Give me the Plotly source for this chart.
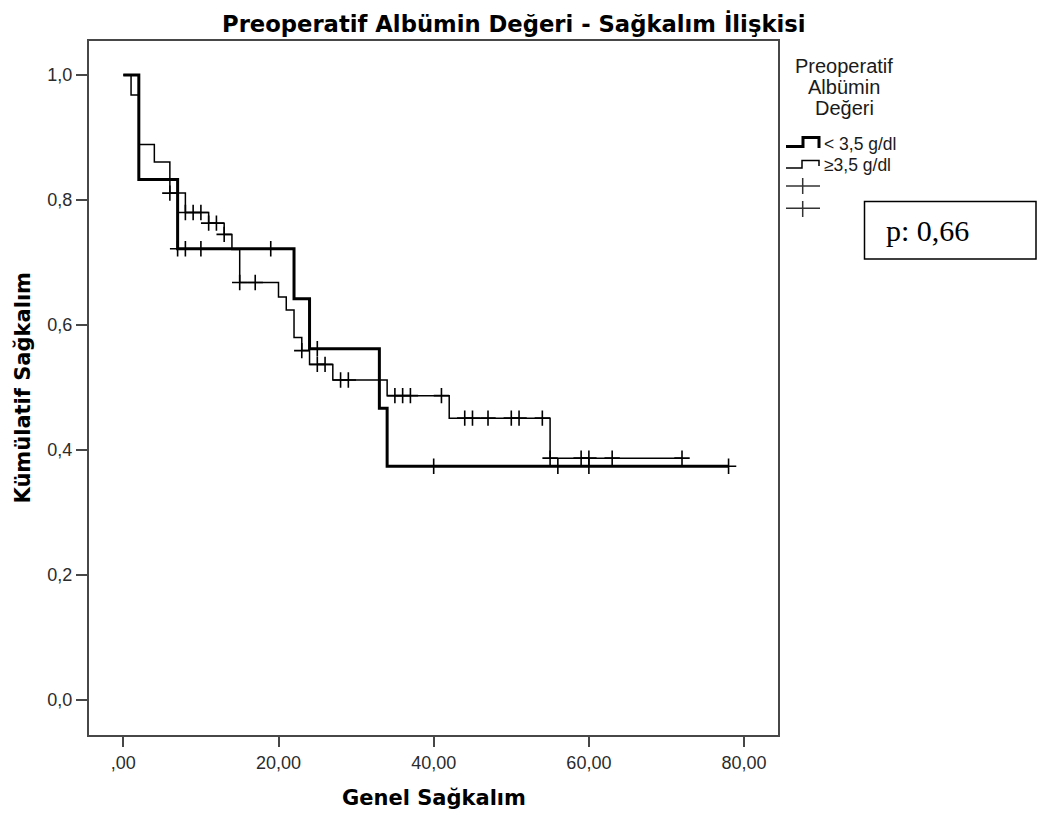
import numpy as np
import plotly.graph_objects as go

# ---------------- data ----------------
low_alb_times = [0, 2, 7, 22, 24, 33, 34, 78]
low_alb_surv = [1.0, 0.833, 0.722, 0.642, 0.562, 0.467, 0.374, 0.374]
low_alb_censor = [7, 8, 10, 19, 25, 40, 56, 60, 78]

high_alb_times = [0, 1, 2, 4, 6, 8, 11, 13, 14, 15, 20, 21, 22, 23, 24, 27, 34, 42, 55, 72]
high_alb_surv = [1.0, 0.968, 0.889, 0.861, 0.811, 0.780, 0.763, 0.745, 0.721, 0.668,
                 0.645, 0.624, 0.580, 0.559, 0.537, 0.512, 0.487, 0.451, 0.387, 0.387]
high_alb_censor = [6, 8, 9, 10, 11, 12, 13, 15, 17, 23, 25, 26, 28, 29, 35, 36, 37, 41,
                   44, 45, 47, 50, 51, 54, 55, 59, 60, 63, 72]

x_tickvals = [0, 20, 40, 60, 80]
x_ticktext = [",00", "20,00", "40,00", "60,00", "80,00"]
y_tickvals = [0.0, 0.2, 0.4, 0.6, 0.8, 1.0]
y_ticktext = ["0,0", "0,2", "0,4", "0,6", "0,8", "1,0"]

legend_title = ["Preoperatif", "Albümin", "Değeri"]
legend_labels = ["< 3,5 g/dl", "\u22653,5 g/dl"]
p_text = "p: 0,66"


def level_at(times, surv, t_list):
    idx = np.searchsorted(np.array(times), np.array(t_list), side="right") - 1
    return [surv[i] for i in idx]


# ---------------- geometry ----------------
W, H = 1039, 816
L, R, T, B = 89, 778, 41, 735


def px(x):
    return (x - L) / (R - L)


def py(y):
    return (B - y) / (B - T)


SANS = "Liberation Sans, Arial, sans-serif"
BOLD = "DejaVu Sans, sans-serif"
FRAME = "#474747"

fig = go.Figure()

# curves
fig.add_trace(go.Scatter(x=low_alb_times, y=low_alb_surv, mode="lines",
                         line=dict(color="black", width=3, shape="hv"),
                         hoverinfo="skip", showlegend=False))
fig.add_trace(go.Scatter(x=high_alb_times, y=high_alb_surv, mode="lines",
                         line=dict(color="black", width=1.5, shape="hv"),
                         hoverinfo="skip", showlegend=False))
# censor marks
fig.add_trace(go.Scatter(x=low_alb_censor,
                         y=level_at(low_alb_times, low_alb_surv, low_alb_censor),
                         mode="markers",
                         marker=dict(symbol="cross-thin", size=11,
                                     line=dict(color="black", width=1.6)),
                         hoverinfo="skip", showlegend=False))
fig.add_trace(go.Scatter(x=high_alb_censor,
                         y=level_at(high_alb_times, high_alb_surv, high_alb_censor),
                         mode="markers",
                         marker=dict(symbol="cross-thin", size=11,
                                     line=dict(color="black", width=1.6)),
                         hoverinfo="skip", showlegend=False))

fig.update_xaxes(range=[-4.42, 84.37], tickvals=x_tickvals, ticktext=x_ticktext,
                 showgrid=False, zeroline=False, showline=True, mirror=True,
                 linecolor=FRAME, linewidth=2, ticks="outside", ticklen=10,
                 tickwidth=2, tickcolor=FRAME,
                 tickfont=dict(family=SANS, size=18, color="#2b2b2b"))
fig.update_yaxes(range=[-0.056, 1.0544], tickvals=y_tickvals, ticktext=y_ticktext,
                 showgrid=False, zeroline=False, showline=True, mirror=True,
                 linecolor=FRAME, linewidth=2, ticks="outside", ticklen=11,
                 tickwidth=2, tickcolor=FRAME,
                 tickfont=dict(family=SANS, size=18, color="#2b2b2b"))

annotations = [
    dict(text="Preoperatif Albümin Değeri - Sağkalım İlişkisi", x=px(514), y=py(24),
         xanchor="center", yanchor="middle",
         font=dict(family=BOLD, size=22.7, color="black", weight="bold")),
    dict(text="Genel Sağkalım", x=px(434), y=py(798), xanchor="center", yanchor="middle",
         font=dict(family=BOLD, size=21, color="black", weight="bold")),
    dict(text="Kümülatif Sağkalım", x=px(22.5), y=py(388), xanchor="center",
         yanchor="middle", textangle=-90,
         font=dict(family=BOLD, size=21, color="black", weight="bold")),
]
for line, yc in zip(legend_title, [66, 87, 108]):
    annotations.append(dict(text=line, x=px(844), y=py(yc), xanchor="center",
                            yanchor="middle",
                            font=dict(family=SANS, size=20, color="#1a1a1a")))
for lab, yc in zip(legend_labels, [144, 165]):
    annotations.append(dict(text=lab, x=px(822), y=py(yc), xanchor="left",
                            yanchor="middle",
                            font=dict(family=SANS, size=17.5, color="#1a1a1a")))
annotations.append(dict(text=p_text, x=px(884), y=py(230), xanchor="left",
                        yanchor="middle",
                        font=dict(family="Liberation Serif, Times New Roman, serif",
                                  size=30, color="black")))
for a in annotations:
    a.update(xref="paper", yref="paper", showarrow=False)


def path(points):
    return "M " + " L ".join(f"{px(x):.5f},{py(y):.5f}" for x, y in points)


shapes = [
    dict(type="path", path=path([(786, 146.5), (803, 146.5), (803, 137.5), (819, 137.5), (819, 148)]),
         line=dict(color="black", width=3)),
    dict(type="path", path=path([(786, 168), (802, 168), (802, 160.5), (819, 160.5), (819, 166)]),
         line=dict(color="black", width=1.5)),
    dict(type="path", path=path([(786, 186), (820, 186)]), line=dict(color="#333", width=1.5)),
    dict(type="path", path=path([(802.7, 178), (802.7, 194)]), line=dict(color="#333", width=1.5)),
    dict(type="path", path=path([(786, 208.3), (820, 208.3)]), line=dict(color="#333", width=1.5)),
    dict(type="path", path=path([(802.7, 201), (802.7, 217)]), line=dict(color="#333", width=1.5)),
    dict(type="rect", x0=px(864.5), x1=px(1036), y0=py(259), y1=py(201.5),
         line=dict(color="black", width=1.5)),
]
for s in shapes:
    s.update(xref="paper", yref="paper")

fig.update_layout(width=W, height=H, margin=dict(l=L, r=W - R, t=T, b=H - B),
                  paper_bgcolor="white", plot_bgcolor="white",
                  annotations=annotations, shapes=shapes, showlegend=False,
                  hovermode=False)

fig.write_html("out.html",
               config={"displayModeBar": False, "staticPlot": True},
               post_script="document.body.style.margin='0px';"
                           "document.body.style.overflow='hidden';")
